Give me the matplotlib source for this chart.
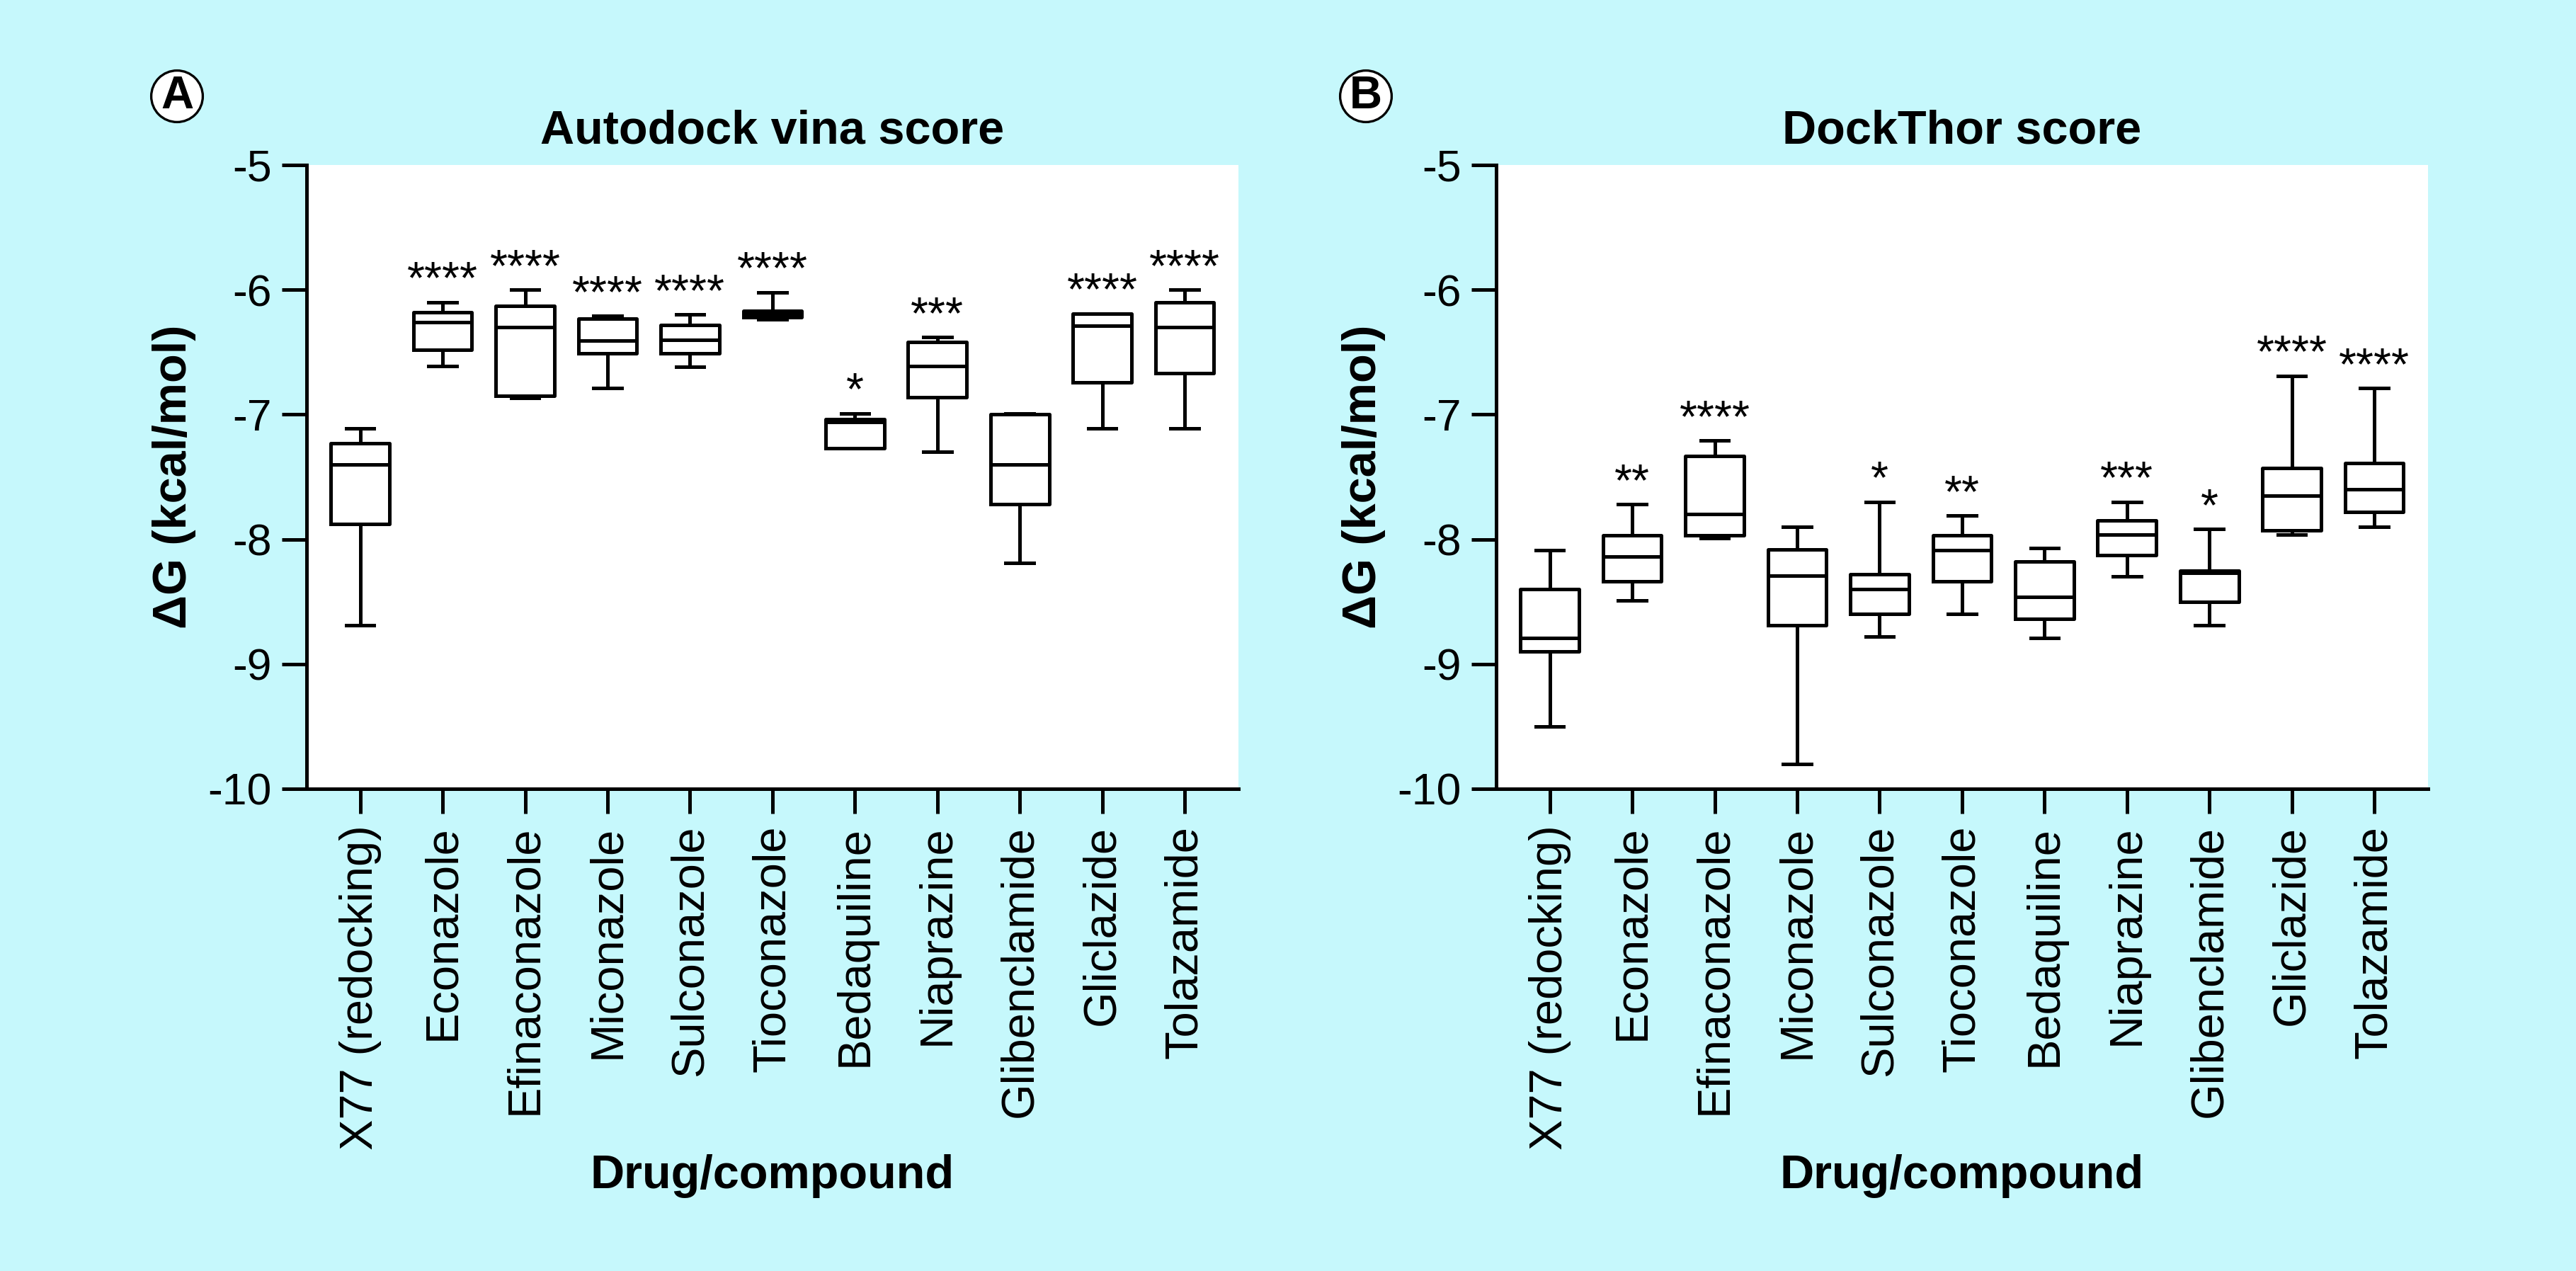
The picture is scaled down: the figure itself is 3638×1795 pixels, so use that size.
import matplotlib.pyplot as plt

plt.rcParams['font.family'] = ['Liberation Sans', 'DejaVu Sans']
plt.rcParams['axes.unicode_minus'] = False

drugs = ['X77 (redocking)', 'Econazole', 'Efinaconazole', 'Miconazole', 'Sulconazole',
         'Tioconazole', 'Bedaquiline', 'Niaprazine', 'Glibenclamide', 'Gliclazide', 'Tolazamide']

# Autodock vina: min, q1, median, q3, max
vina_min = [-8.69, -6.61, -6.87, -6.79, -6.62, -6.24, -7.27, -7.30, -8.19, -7.11, -7.11]
vina_q1 = [-7.88, -6.48, -6.85, -6.51, -6.51, -6.22, -7.27, -6.86, -7.72, -6.74, -6.67]
vina_med = [-7.40, -6.26, -6.30, -6.41, -6.40, -6.20, -7.06, -6.61, -7.40, -6.29, -6.30]
vina_q3 = [-7.23, -6.18, -6.13, -6.23, -6.28, -6.17, -7.04, -6.42, -7.00, -6.19, -6.10]
vina_max = [-7.11, -6.10, -6.00, -6.21, -6.20, -6.02, -6.99, -6.38, -6.99, -6.19, -6.00]
vina_sig = ['', '****', '****', '****', '****', '****', '*', '***', '', '****', '****']

# DockThor
dt_min = [-9.50, -8.49, -7.99, -9.80, -8.78, -8.60, -8.79, -8.30, -8.69, -7.96, -7.90]
dt_q1 = [-8.90, -8.34, -7.97, -8.69, -8.60, -8.34, -8.64, -8.13, -8.50, -7.93, -7.78]
dt_med = [-8.79, -8.14, -7.80, -8.29, -8.40, -8.09, -8.46, -7.96, -8.27, -7.65, -7.60]
dt_q3 = [-8.40, -7.97, -7.33, -8.08, -8.28, -7.97, -8.18, -7.85, -8.25, -7.43, -7.39]
dt_max = [-8.09, -7.72, -7.21, -7.90, -7.70, -7.81, -8.07, -7.70, -7.92, -6.69, -6.79]
dt_sig = ['', '**', '****', '', '*', '**', '', '***', '*', '****', '****']

bg = '#c6f8fc'
lw = 1.8

fig = plt.figure(figsize=(18.19, 8.975), dpi=200, facecolor=bg)


def panel(rect, title, mins, q1s, meds, q3s, maxs, sig):
    ax = fig.add_axes(rect)
    ax.set_facecolor('white')
    stats = []
    for lo, a, m, b, hi in zip(mins, q1s, meds, q3s, maxs):
        stats.append({'whislo': lo, 'q1': a, 'med': m, 'q3': b, 'whishi': hi})
    pos = list(range(len(stats)))
    line = dict(color='black', linewidth=lw)
    ax.bxp(stats, positions=pos, widths=0.71, capwidths=0.34, showfliers=False,
           boxprops=line, whiskerprops=line, capprops=line, medianprops=line)
    for p, hi, s in zip(pos, maxs, sig):
        if s:
            ax.text(p, hi + 0.07, s, ha='center', va='baseline', fontsize=23)
    ax.set_xlim(-0.65, len(stats) - 0.35)
    ax.set_ylim(-10, -5)
    ax.set_yticks([-10, -9, -8, -7, -6, -5])
    ax.set_xticks(pos)
    ax.set_xticklabels(drugs, rotation=90, fontsize=23.4)
    ax.tick_params(axis='y', labelsize=22.5, length=12.6, width=lw, pad=5)
    ax.tick_params(axis='x', length=12.6, width=lw, pad=6)
    for side in ['top', 'right']:
        ax.spines[side].set_visible(False)
    for side in ['left', 'bottom']:
        ax.spines[side].set_linewidth(lw)
    ax.set_title(title, fontsize=24, fontweight='bold', pad=11)
    ax.set_ylabel('ΔG (kcal/mol)', fontsize=24, fontweight='bold', labelpad=6)
    ax.set_xlabel('Drug/compound', fontsize=24, fontweight='bold', labelpad=2)
    return ax


panel([0.1190, 0.3794, 0.3617, 0.4908], 'Autodock vina score',
      vina_min, vina_q1, vina_med, vina_q3, vina_max, vina_sig)
panel([0.5808, 0.3794, 0.3617, 0.4908], 'DockThor score',
      dt_min, dt_q1, dt_med, dt_q3, dt_max, dt_sig)

for x, letter in [(250 / 3638, 'A'), (1929 / 3638, 'B')]:
    fig.text(x, 1 - 136 / 1795, letter, ha='center', va='center', fontsize=23,
             fontweight='bold',
             bbox=dict(boxstyle='circle,pad=0.1', fc='white', ec='black', lw=1.2))

fig.savefig('out.png', dpi=200, facecolor=bg)
